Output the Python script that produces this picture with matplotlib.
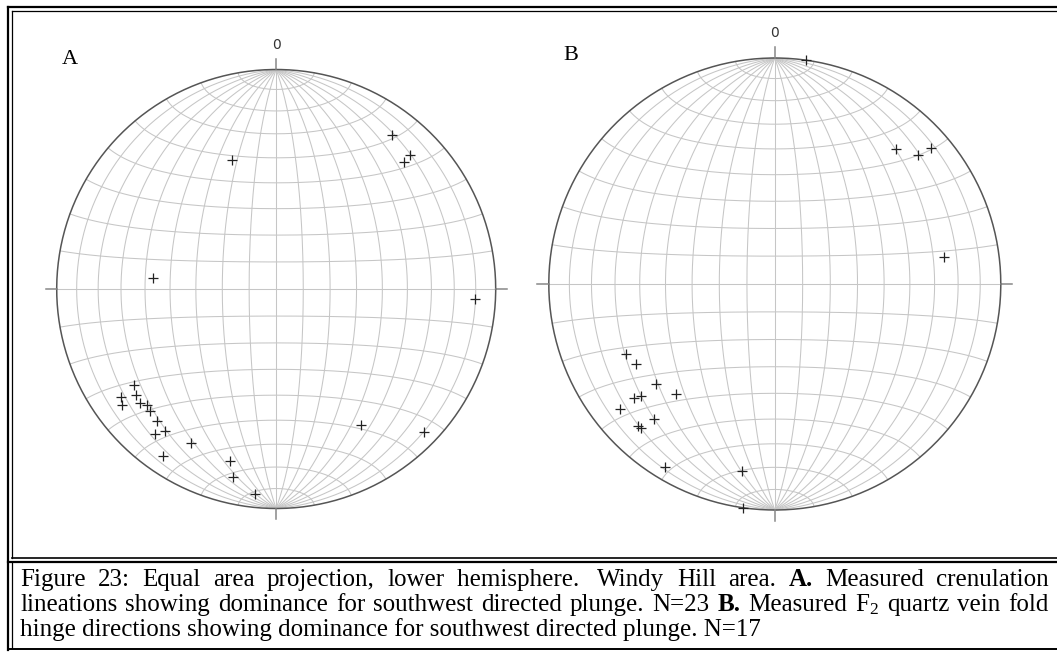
import numpy as np
import matplotlib
matplotlib.use("Agg")
import matplotlib.pyplot as plt

plt.rcParams["mathtext.fontset"] = "custom"
plt.rcParams["mathtext.rm"] = "Liberation Serif"
plt.rcParams["mathtext.it"] = "Liberation Serif:italic"
plt.rcParams["mathtext.bf"] = "Liberation Serif:bold"

# A: crenulation lineations (trend, plunge in degrees)
trend_a = [37, 341, 45, 45, 275, 93, 236, 233, 235, 233, 230, 228, 226, 222, 220,
           218, 209, 214, 195, 193, 186, 148, 134]
plunge_a = [13, 38, 19, 15, 43, 10, 23, 21, 15, 13, 20, 22, 21, 20, 15,
            19, 21, 9, 20, 13, 7, 28, 7]

# B: F2 quartz vein fold hinges
trend_b = [8, 42, 48, 49, 81, 245, 240, 230, 222, 231, 230, 231, 222, 224, 223,
           211, 190, 188]
plunge_b = [0, 21, 16, 9, 25, 28, 30, 32, 35, 21, 24, 13, 21, 14, 14,
            6, 17, 0]

caption_1 = ["Figure", "23:", "Equal", "area", "projection,", "lower", "hemisphere. ",
             "Windy", "Hill", "area.", "**A.", "Measured", "crenulation"]
caption_2 = ["lineations", "showing", "dominance", "for", "southwest", "directed",
             "plunge.", "N=23", "**B.", "Measured", "F$_2$", "quartz", "vein", "fold"]
caption_3 = "hinge directions showing dominance for southwest directed plunge. N=17"

W, H = 1057, 652
fig = plt.figure(figsize=(W / 100, H / 100), dpi=100)
fig.patch.set_facecolor("white")

# overlay in pixel coordinates for the frame and caption
ov = fig.add_axes([0, 0, 1, 1])
ov.set_xlim(0, W)
ov.set_ylim(H, 0)
ov.axis("off")


def lam(lon, lat):
    lon = np.radians(lon)
    lat = np.radians(lat)
    k = np.sqrt(2 / (1 + np.cos(lat) * np.cos(lon)))
    return k * np.cos(lat) * np.sin(lon) / np.sqrt(2), k * np.sin(lat) / np.sqrt(2)


def net(cx, cy, R, trend, plunge, letter, lx, ly):
    lim = 1.15
    ax = fig.add_axes([(cx - lim * R) / W, (H - cy - lim * R) / H,
                       2 * lim * R / W, 2 * lim * R / H])
    ax.set_xlim(-lim, lim)
    ax.set_ylim(-lim, lim)
    ax.axis("off")
    t = np.linspace(-90, 90, 361)
    # schmidt net: great circles and small circles every 10 degrees
    for lon in range(-80, 90, 10):
        x, y = lam(np.full_like(t, lon), t)
        ax.plot(x, y, color="#c6c6c6", lw=0.75, zorder=1)
    for lat in range(-80, 90, 10):
        x, y = lam(t, np.full_like(t, lat))
        ax.plot(x, y, color="#c6c6c6", lw=0.75, zorder=1)
    a = np.linspace(0, 2 * np.pi, 500)
    ax.plot(np.cos(a), np.sin(a), color="#555555", lw=1.1, zorder=2)
    ax.plot([-1.05, -1], [0, 0], color="#888888", lw=1.1)
    ax.plot([1, 1.05], [0, 0], color="#888888", lw=1.1)
    ax.plot([0, 0], [1, 1.05], color="#888888", lw=1.1)
    ax.plot([0, 0], [-1, -1.05], color="#888888", lw=1.1)
    ax.text(0, 1.08, "0", ha="center", va="bottom", fontsize=10,
            family="DejaVu Sans", color="#333333")
    tr = np.radians(trend)
    r = np.sqrt(2) * np.sin(np.radians(90 - np.array(plunge)) / 2)
    ax.plot(r * np.sin(tr), r * np.cos(tr), "+", color="#222222", ms=6.5, mew=0.9,
            zorder=3)
    ov.text(lx, ly, letter, fontsize=16, family="Liberation Serif", ha="left",
            va="baseline")


net(276.2, 289, 219.5, trend_a, plunge_a, "A", 62, 64)
net(774.8, 284, 226, trend_b, plunge_b, "B", 563, 60)

# frame (double border like the document table)
k = "black"
ov.plot([8, 8], [7, 650], color=k, lw=1.6)
ov.plot([8, W], [7, 7], color=k, lw=1.6)
ov.plot([11.5, 11.5], [10.5, 557.5], color=k, lw=0.9)
ov.plot([11.5, W], [10.5, 10.5], color=k, lw=0.9)
ov.plot([11.5, W], [557.5, 557.5], color=k, lw=1.2)
ov.plot([8, W], [562, 562], color=k, lw=1.6)
ov.plot([11.5, 11.5], [562, 648], color=k, lw=0.9)
ov.plot([8, W], [649, 649], color=k, lw=1.4)

# caption, justified lines
fs = 18
fig.canvas.draw()
rend = fig.canvas.get_renderer()


def justify(words, y, x0, x1):
    ts = []
    for w in words:
        bold = w.startswith("**")
        s = w[2:] if bold else w
        ts.append(ov.text(x0, y, s, fontsize=fs, family="Liberation Serif",
                          fontweight="bold" if bold else "normal", va="baseline"))
    ws = [tx.get_window_extent(rend).width for tx in ts]
    gap = (x1 - x0 - sum(ws)) / (len(ts) - 1)
    x = x0
    for tx, w in zip(ts, ws):
        tx.set_x(x)
        x += w + gap


justify(caption_1, 586, 20, 1049)
justify(caption_2, 611, 20, 1049)
ov.text(20, 636, caption_3, fontsize=fs, family="Liberation Serif", va="baseline")

fig.savefig("out.png", dpi=100)
